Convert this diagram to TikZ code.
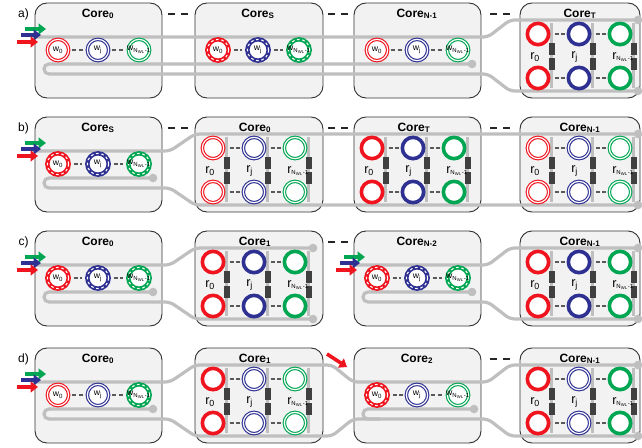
\documentclass[tikz,border=0pt]{standalone}
\usepackage{fontspec}
\setmainfont{Liberation Sans}
\usetikzlibrary{arrows.meta}

% tiny subscript N_WL-1
\newcommand{\nwl}{\textsubscript{\fontsize{4.5}{5}\selectfont N\textsubscript{WL}-1}}

% core with one row of rings: name, x, y, title, styles of w0, wj, wN
\newcommand{\wcore}[7]{%
  \node[coretitle] (#1-t) at (#2+63,#3+11) {Core\textsubscript{#4}};
  \node[ring#5=wred]   (#1-w0) at (#2+23,#3+47) {};
  \node[ring#6=wblue]  (#1-wj) at (#2+63,#3+47) {};
  \node[ring#7=wgreen] (#1-wn) at (#2+104,#3+47) {};
  \node[wtext] (#1-w0l) at (#1-w0) {w\textsubscript{0}};
  \node[wtext] (#1-wjl) at (#1-wj) {w\textsubscript{j}};
  \node[wtext] (#1-wnl) at (#1-wn) {w\nwl};
  \draw[ringgap] ([xshift=2pt]#1-w0.east) -- ([xshift=-2pt]#1-wj.west);
  \draw[ringgap] ([xshift=2pt]#1-wj.east) -- ([xshift=-2pt]#1-wn.west);
}

% core with two rows of rings: name, x, y, title, styles of r0, rj, rN
\newcommand{\rcore}[7]{%
  \node[coretitle] (#1-t) at (#2+60,#3+11) {Core\textsubscript{#4}};
  \foreach \dx in {31.5,72.5,113.5}{
    \draw[dropbar] (#2+\dx,#3+20) -- (#2+\dx,#3+85);
    \fill[heater] (#2+\dx-2.5,#3+40) rectangle +(5.5,11.5);
    \fill[heater] (#2+\dx-2.5,#3+55) rectangle +(5.5,11.5);
  }
  \node[ring#5=wred]   (#1-0a) at (#2+18,#3+31) {};
  \node[ring#5=wred]   (#1-0b) at (#2+18,#3+75) {};
  \node[ring#6=wblue]  (#1-ja) at (#2+59,#3+31) {};
  \node[ring#6=wblue]  (#1-jb) at (#2+59,#3+75) {};
  \node[ring#7=wgreen] (#1-na) at (#2+100,#3+31) {};
  \node[ring#7=wgreen] (#1-nb) at (#2+100,#3+75) {};
  \node[rtext] (#1-0l) at (#2+10,#3+54) {r\textsubscript{0}};
  \node[rtext] (#1-jl) at (#2+51,#3+54) {r\textsubscript{j}};
  \node[rtext] (#1-nl) at (#2+92,#3+54) {r\nwl};
  \draw[ringgap] (#2+34.5,#3+31) -- ([xshift=-1.5pt]#1-ja.west);
  \draw[ringgap] (#2+34.5,#3+75) -- ([xshift=-1.5pt]#1-jb.west);
  \draw[ringgap] (#2+75.5,#3+31) -- ([xshift=-1.5pt]#1-na.west);
  \draw[ringgap] (#2+75.5,#3+75) -- ([xshift=-1.5pt]#1-nb.west);
}

% three input wavelengths at the start of a bus
\newcommand{\inarrows}[2]{%
  \draw[inarrow=wgreen] (#1-7,#2-8) -- (#1+14,#2-8);
  \draw[inarrow=wblue]  (#1-11,#2-2) -- (#1+9,#2-2);
  \draw[inarrow=wred]   (#1-15,#2+5) -- (#1+6,#2+5);
}

\begin{document}
\begin{tikzpicture}[x=0.75pt, y=-0.75pt,
  corebox/.style={draw=black!80, fill=corefill, line width=0.7pt, rounded corners=9pt},
  coretitle/.style={font=\bfseries\fontsize{9}{10}\selectfont, inner sep=0pt},
  rowlabel/.style={font=\fontsize{9}{10}\selectfont, inner sep=0pt},
  wtext/.style={font=\fontsize{6.5}{7}\selectfont, inner sep=0pt},
  rtext/.style={font=\fontsize{9.5}{10}\selectfont, inner sep=0pt, anchor=west},
  ringdbl/.style={circle, inner sep=0pt, minimum size=16pt, draw=#1, fill=white,
    line width=0.85pt, double=white, double distance=0.9pt},
  ringdsh/.style={circle, inner sep=0pt, minimum size=16pt, draw=#1, fill=white,
    line width=3.3pt, postaction={draw=white, line width=0.8pt, dash pattern=on 2pt off 2pt}},
  ringthk/.style={circle, inner sep=0pt, minimum size=16pt, draw=#1, fill=white, line width=2.7pt},
  ringgap/.style={draw=black!65, line width=0.9pt, dash pattern=on 3pt off 2.2pt},
  gapdash/.style={draw=black!85, line width=1.5pt, dash pattern=on 5.25pt off 4.5pt},
  dropbar/.style={draw=black!25, line width=1.8pt},
  heater/.style={fill=black!75},
  wg/.style={draw=wggray, line width=2.4pt, rounded corners=3.7pt},
  wgdot/.style={circle, fill=wggray, inner sep=0pt, minimum size=6.5pt},
  inarrow/.style={draw=#1, line width=2.7pt, -{Triangle[length=5.5pt,width=8pt]}}]
\definecolor{corefill}{RGB}{242,242,242}
\definecolor{wggray}{RGB}{191,191,191}
\definecolor{wred}{RGB}{240,20,30}
\definecolor{wblue}{RGB}{46,49,146}
\definecolor{wgreen}{RGB}{0,166,81}
\useasboundingbox (0,0) rectangle (642,447);

% frames
\foreach \y in {3,117,231,348}{
  \draw[corebox] (35,\y) rectangle +(127,95);
  \draw[corebox] (195,\y) rectangle +(128,95);
  \draw[corebox] (354,\y) rectangle +(127,95);
  \draw[corebox] (520,\y) rectangle +(120,95);
}

% buses
\draw[wg] (32,37) -- (488,37) -- (510,20) -- (638,20);
\draw[wg] (472,64) -- (44,64) -- (44,74) -- (488,74) -- (510,91) -- (638,91);

\draw[wg] (32,151) -- (170,151) -- (195,134) -- (638,134);
\draw[wg] (153,178) -- (44,178) -- (44,188) -- (170,188) -- (195,205) -- (638,205);

\draw[wg] (32,265) -- (170,265) -- (195,248) -- (313,248);
\draw[wg] (153,292) -- (44,292) -- (44,302) -- (170,302) -- (195,319) -- (313,319);
\draw[wg] (351,265) -- (488,265) -- (510,248) -- (638,248);
\draw[wg] (472,292) -- (363,292) -- (363,302) -- (488,302) -- (510,319) -- (638,319);

\draw[wg] (32,382) -- (170,382) -- (195,365) -- (332,365) -- (353,382)
  -- (488,382) -- (510,365) -- (638,365);
\draw[wg] (153,409) -- (44,409) -- (44,419) -- (170,419) -- (195,436) -- (332,436)
  -- (353,419) -- (488,419) -- (510,436) -- (638,436);
\draw[wg] (474,409) -- (363,409) -- (363,419) -- (380,419);

\node[wgdot] (a-e1) at (472,64) {};
\node[wgdot] (a-e2) at (638,20) {};
\node[wgdot] (a-e3) at (638,91) {};
\node[wgdot] (b-e1) at (153,178) {};
\node[wgdot] (b-e2) at (638,134) {};
\node[wgdot] (b-e3) at (638,205) {};
\node[wgdot] (c-e1) at (153,292) {};
\node[wgdot] (c-e2) at (313,248) {};
\node[wgdot] (c-e3) at (313,319) {};
\node[wgdot] (c-e4) at (472,292) {};
\node[wgdot] (c-e5) at (638,248) {};
\node[wgdot] (c-e6) at (638,319) {};
\node[wgdot] (d-e1) at (153,409) {};
\node[wgdot] (d-e2) at (474,409) {};
\node[wgdot] (d-e3) at (638,365) {};
\node[wgdot] (d-e4) at (638,436) {};

% a)
\node[rowlabel] (la) at (23.5,14) {a)};
\wcore{a1}{35}{3}{0}{dbl}{dbl}{dbl}
\wcore{a2}{195}{3}{S}{dsh}{dsh}{dsh}
\wcore{a3}{354}{3}{N-1}{dbl}{dbl}{dbl}
\rcore{a4}{520}{3}{T}{thk}{thk}{thk}
\inarrows{32}{37}
\draw[gapdash] (168,14) -- +(20,0);
\draw[gapdash] (328,14) -- +(20,0);
\draw[gapdash] (490,14) -- +(20,0);

% b)
\node[rowlabel] (lb) at (23.5,128) {b)};
\wcore{b1}{35}{117}{S}{dsh}{dsh}{dsh}
\rcore{b2}{195}{117}{0}{dbl}{dbl}{dbl}
\rcore{b3}{354}{117}{T}{thk}{thk}{thk}
\rcore{b4}{520}{117}{N-1}{dbl}{dbl}{dbl}
\inarrows{32}{151}
\draw[gapdash] (168,128) -- +(20,0);
\draw[gapdash] (328,128) -- +(20,0);
\draw[gapdash] (490,128) -- +(20,0);

% c)
\node[rowlabel] (lc) at (23.5,242) {c)};
\wcore{c1}{35}{231}{0}{dsh}{dsh}{dsh}
\rcore{c2}{195}{231}{1}{thk}{thk}{thk}
\wcore{c3}{354}{231}{N-2}{dsh}{dsh}{dsh}
\rcore{c4}{520}{231}{N-1}{thk}{thk}{thk}
\inarrows{32}{265}
\inarrows{351}{265}
\draw[gapdash] (328,242) -- +(20,0);

% d)
\node[rowlabel] (ld) at (23.5,359) {d)};
\wcore{d1}{35}{348}{0}{dbl}{dbl}{dsh}
\rcore{d2}{195}{348}{1}{thk}{dbl}{dbl}
\wcore{d3}{354}{348}{2}{dsh}{dbl}{dbl}
\rcore{d4}{520}{348}{N-1}{thk}{dbl}{thk}
\inarrows{32}{382}
\draw[inarrow=wred] (327,354) -- (347,367);
\draw[gapdash] (490,359) -- +(20,0);
\end{tikzpicture}
\end{document}
